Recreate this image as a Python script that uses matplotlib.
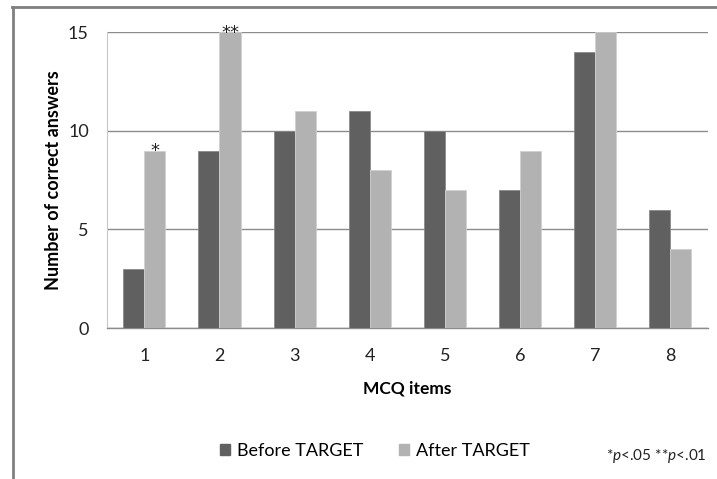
import matplotlib
matplotlib.use("Agg")
import matplotlib.pyplot as plt
import numpy as np
from matplotlib.lines import Line2D
from matplotlib.patches import Patch

items = ["1", "2", "3", "4", "5", "6", "7", "8"]
before = [3, 9, 10, 11, 10, 7, 14, 6]
after = [9, 15, 11, 8, 7, 9, 15, 4]
marks = {0: "*", 1: "**"}

plt.rcParams["font.family"] = ["Lato", "DejaVu Sans"]
plt.rcParams["mathtext.fontset"] = "custom"
plt.rcParams["mathtext.it"] = "Lato:italic"
plt.rcParams["mathtext.rm"] = "Lato"

fig = plt.figure(figsize=(7.17, 4.79), dpi=100)
ax = fig.add_axes([0.149, 0.315, 0.838, 0.618])

x = np.arange(len(items))
w = 0.28
dark = "#606060"
light = "#b2b2b2"
ax.bar(x - w / 2, before, w, color=dark, edgecolor="#8a8a8a", linewidth=0.6, zorder=3)
ax.bar(x + w / 2, after, w, color=light, edgecolor="#d0d0d0", linewidth=0.6, zorder=3)

# significance stars above the "after" bars
for i, m in marks.items():
    ax.annotate(m, (x[i] + w / 2, after[i]), xytext=(0, -4), textcoords="offset points",
                ha="center", va="baseline", fontsize=13, color="#222222",
                family="DejaVu Sans", annotation_clip=False)

ax.set_xlim(-0.5, len(items) - 0.5)
ax.set_ylim(0, 15)
ax.set_yticks([0, 5, 10, 15])
ax.set_xticks(x)
ax.set_xticklabels(items)
ax.tick_params(axis="both", length=0, labelsize=13, colors="#222222")
ax.tick_params(axis="x", pad=14)
ax.tick_params(axis="y", pad=13)
ax.grid(axis="y", color="#8c8c8c", linewidth=1.0, zorder=0)
for s in ["top", "right"]:
    ax.spines[s].set_visible(False)
ax.spines["left"].set_color("#c8c8c8")
ax.spines["bottom"].set_color("#8c8c8c")
ax.spines["bottom"].set_linewidth(1.0)

ax.set_ylabel("Number of correct answers", fontsize=13, fontweight="bold", labelpad=4)
ax.set_xlabel("MCQ items", fontsize=12.5, fontweight="bold", labelpad=12)

handles = [Patch(color=dark, label="Before TARGET"), Patch(color=light, label="After TARGET")]
fig.legend(handles=handles, loc="center", bbox_to_anchor=(0.523, 0.058), ncol=2,
           frameon=False, fontsize=13, handlelength=0.55, handleheight=0.55,
           columnspacing=2.0, handletextpad=0.4)

fig.text(0.986, 0.048, r"*$\it{p}$<.05 **$\it{p}$<.01", ha="right", va="center",
         fontsize=11, color="#222222")

# frame lines at left and top edge
fig.add_artist(Line2D([0.018, 0.018], [0, 0.986], color="#808080", linewidth=2))
fig.add_artist(Line2D([0.017, 1.0], [0.986, 0.986], color="#808080", linewidth=2))

fig.savefig("out.png", dpi=100)
